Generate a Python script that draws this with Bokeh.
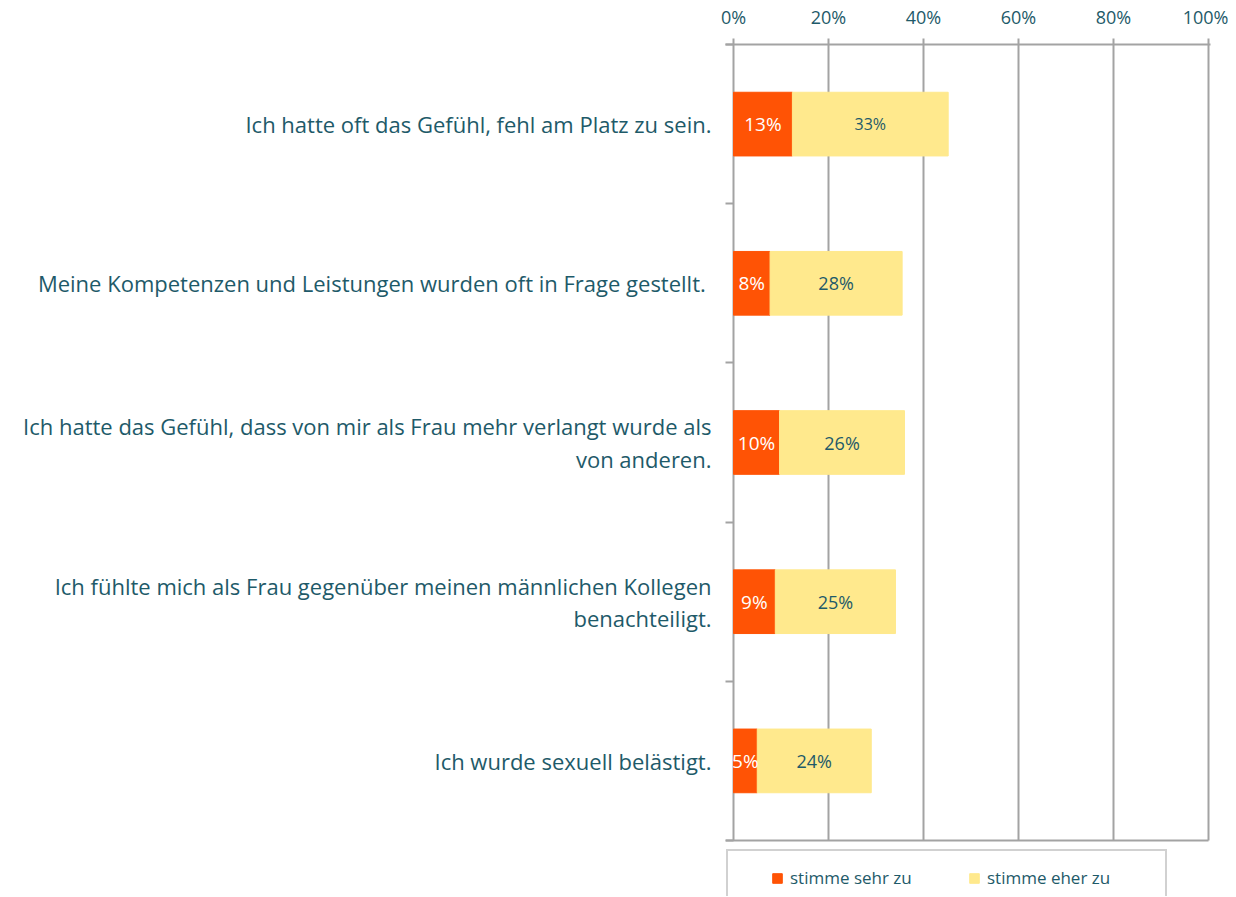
from bokeh.plotting import figure
from bokeh.models import Range1d, FixedTicker, ColumnDataSource
from bokeh.core.properties import value
from bokeh.embed import file_html
from bokeh.resources import INLINE

categories = [
    "Ich hatte oft das Gefühl, fehl am Platz zu sein.",
    "Meine Kompetenzen und Leistungen  wurden oft in Frage gestellt.",
    "Ich hatte das Gefühl, dass von mir als Frau mehr verlangt wurde als\nvon anderen.",
    "Ich fühlte mich als Frau gegenüber meinen männlichen Kollegen\nbenachteiligt.",
    "Ich wurde sexuell belästigt.",
]
sehr_zu = [12.4, 7.7, 9.7, 8.8, 5.0]
eher_zu = [32.8, 27.8, 26.3, 25.3, 24.0]
sehr_labels = ["13%", "8%", "10%", "9%", "5%"]
eher_labels = ["33%", "28%", "26%", "25%", "24%"]
x_ticks = [0, 20, 40, 60, 80, 100]
series_names = ["stimme sehr zu", "stimme eher zu"]

ORANGE = "#FF5305"
YELLOW = "#FFE98D"
TEAL = "#1E5A69"
GRAY = "#A3A3A3"
FONT = "Open Sans"

# layout (pixels)
W, H = 1228, 896
PLOT_L, PLOT_R, PLOT_T, PLOT_B = 733, 1208, 44, 840   # 0%..100%, top..bottom of bars area
TICK = 8

n = len(categories)
ys = [n - i - 0.5 for i in range(n)]
ends = [a + b for a, b in zip(sehr_zu, eher_zu)]

px_x = 100.0 / (PLOT_R - PLOT_L)
px_y = n / (PLOT_B - PLOT_T)
X_MIN = -TICK * px_x
X_MAX = 100 + 2 * px_x
Y_MIN = -(H - PLOT_B) * px_y

src = ColumnDataSource(dict(
    y=ys, sehr=sehr_zu, eher=eher_zu, end=ends,
    sehr_mid=[a / 2 for a in sehr_zu],
    eher_mid=[a + b / 2 for a, b in zip(sehr_zu, eher_zu)],
    sehr_lab=sehr_labels, eher_lab=eher_labels,
    eher_size=["16px" if i == 0 else "18px" for i in range(n)],
))

p = figure(width=W, height=H, output_backend="svg", toolbar_location=None,
           x_range=Range1d(X_MIN, X_MAX), y_range=Range1d(Y_MIN, n),
           x_axis_location="above", min_border_left=PLOT_L - TICK,
           min_border_right=W - PLOT_R - 2, min_border_top=PLOT_T,
           min_border_bottom=0)
p.outline_line_color = None
p.background_fill_color = "white"
p.border_fill_color = "white"
p.xgrid.grid_line_color = None
p.ygrid.grid_line_color = None

# grid lines (incl. 0% axis line) and bottom line, limited to the bars area
p.segment(x0=x_ticks, x1=x_ticks, y0=[0] * len(x_ticks), y1=[n] * len(x_ticks),
          line_color=GRAY, line_width=2)
p.segment(x0=[X_MIN], x1=[x_ticks[-1]], y0=[0], y1=[0], line_color=GRAY, line_width=2)

p.hbar(y="y", left=0, right="sehr", height=0.4, source=src, color=ORANGE,
       legend_label=series_names[0])
p.hbar(y="y", left="sehr", right="end", height=0.4, source=src, color=YELLOW,
       legend_label=series_names[1])

p.text(x="sehr_mid", y="y", text="sehr_lab", source=src, text_color="white",
       text_font=value(FONT), text_font_size="19px", text_align="center",
       text_baseline="middle")
p.text(x="eher_mid", y="y", text="eher_lab", source=src, text_color=TEAL,
       text_font=value(FONT), text_font_size="eher_size", text_align="center",
       text_baseline="middle")

# top x axis
xa = p.xaxis[0]
xa.ticker = FixedTicker(ticks=x_ticks)
xa.major_label_overrides = {t: f"{t}%" for t in x_ticks}
xa.major_label_text_font = FONT
xa.major_label_text_font_size = "18px"
xa.major_label_text_color = TEAL
xa.major_label_standoff = 10
xa.axis_line_color = GRAY
xa.axis_line_width = 2
xa.major_tick_line_color = GRAY
xa.major_tick_line_width = 2
xa.major_tick_in = 0
xa.major_tick_out = 6
xa.minor_tick_line_color = None

# left y axis: labels at centres, ticks at category boundaries
ya = p.yaxis[0]
ya.ticker = FixedTicker(ticks=ys, minor_ticks=list(range(n + 1)))
ya.major_label_overrides = {y: c for y, c in zip(ys, categories)}
ya.major_label_text_font = FONT
ya.major_label_text_font_size = "22px"
ya.major_label_text_color = TEAL
ya.major_label_text_line_height = 1.07
ya.major_label_standoff = 14
ya.major_tick_line_color = None
ya.major_tick_in = 0
ya.major_tick_out = 0
ya.minor_tick_line_color = GRAY
ya.minor_tick_line_width = 2
ya.minor_tick_in = TICK
ya.minor_tick_out = 0
ya.axis_line_color = None

leg = p.legend[0]
leg.orientation = "horizontal"
leg.location = (1, -10)
leg.margin = 0
leg.border_line_color = GRAY
leg.border_line_width = 2
leg.background_fill_alpha = 0
leg.padding = 15
leg.spacing = 15
leg.glyph_width = 12
leg.glyph_height = 12
leg.label_standoff = 7
leg.label_width = 163
leg.label_text_font = FONT
leg.label_text_font_size = "17px"
leg.label_text_color = TEAL
leg.title = " "
leg.title_location = "left"
leg.title_text_font_size = "16px"
leg.title_standoff = 10

open("out.html", "w").write(file_html(p, INLINE))
